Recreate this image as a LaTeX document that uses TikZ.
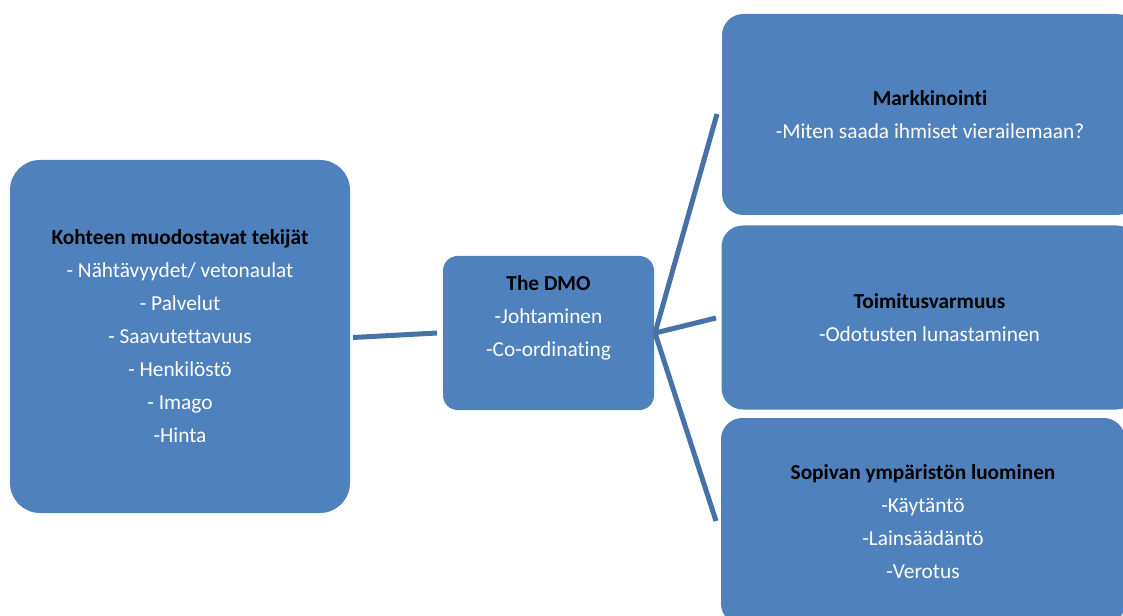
\documentclass[tikz,border=0pt]{standalone}
\usepackage{fontspec}
\setmainfont{Carlito}[Ligatures=NoCommon]
\definecolor{boxblue}{HTML}{4F81BD}
\definecolor{lineblue}{HTML}{4672A8}
\begin{document}
\begin{tikzpicture}[x=0.75pt,y=-0.75pt,
  box/.style={draw=none,fill=boxblue,text=white,align=center,inner sep=0pt,
    font=\fontsize{16}{24.75}\selectfont},
  boxtext/.style={text=white,align=center,inner sep=0pt,
    font=\fontsize{16}{24.75}\selectfont},
  conn/.style={draw=lineblue,line width=3.75pt}]
\useasboundingbox (0,0) rectangle (1123,616);
\clip (0,0) rectangle (1123,616);
\newcommand{\hdtext}[1]{\textcolor{black}{\textbf{#1}}}
% boxes
\node[box,rounded corners=22.5pt,minimum width=255pt,minimum height=264.75pt] (L) at (180,336.5)
 {\hdtext{Kohteen muodostavat tekijät}\\- Nähtävyydet/ vetonaulat\\- Palvelut\\- Saavutettavuus\\- Henkilöstö\\- Imago\\-Hinta};
\node[box,rounded corners=11pt,minimum width=158.25pt,minimum height=115.5pt] (D) at (548.5,333) {};
\node[boxtext] (Dt) at (548.5,318)
 {\hdtext{The DMO}\\-Johtaminen\\-Co-ordinating};
\node[box,rounded corners=16pt,minimum width=312pt,minimum height=150.75pt] (M) at (930,114.5)
 {\hdtext{Markkinointi}\\-Miten saada ihmiset vierailemaan?};
\node[box,rounded corners=16pt,minimum width=312pt,minimum height=138pt] (T) at (929.5,317.5)
 {\hdtext{Toimitusvarmuus}\\-Odotusten lunastaminen};
\node[box,rounded corners=16pt,minimum width=303pt,minimum height=155.25pt] (S) at (923,521.5)
 {\hdtext{Sopivan ympäristön luominen}\\-Käytäntö\\-Lainsäädäntö\\-Verotus};
% connectors
\coordinate (la) at (353,337.5);
\coordinate (lb) at (437,333);
\coordinate (hub) at (655,333);
\coordinate (ma) at (717,114);
\coordinate (ta) at (716,318);
\coordinate (sa) at (716,521);
\draw[conn] (la) -- (lb);
\draw[conn] (hub) -- (ma);
\draw[conn] (hub) -- (ta);
\draw[conn] (hub) -- (sa);
\end{tikzpicture}
\end{document}
